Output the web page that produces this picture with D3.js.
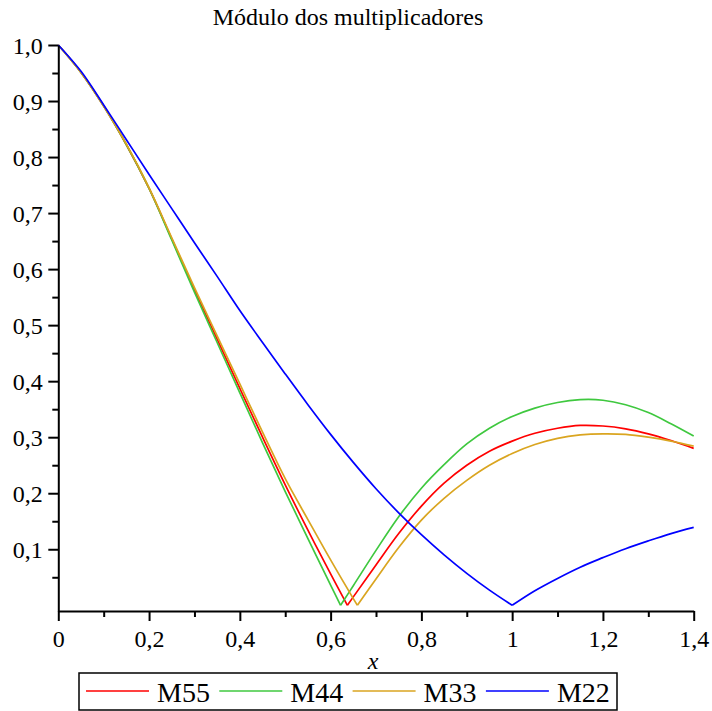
<!DOCTYPE html>
<html>
<head>
<meta charset="utf-8">
<script src="https://cdn.jsdelivr.net/npm/d3@7"></script>
<style>
  html, body { margin: 0; padding: 0; background: #fff; }
  svg { display: block; }
  text { font-family: "Liberation Serif", "Times New Roman", serif; fill: #000; }
</style>
</head>
<body>
<svg id="chart" width="712" height="711"></svg>
<script>
// Pontos de amostragem em x
const xs = [0, 0.05, 0.1, 0.15, 0.2, 0.25, 0.3, 0.35, 0.4, 0.45, 0.5, 0.55, 0.6, 0.65, 0.7,
            0.75, 0.8, 0.85, 0.9, 0.95, 1.0, 1.05, 1.1, 1.15, 1.2, 1.25, 1.3, 1.35, 1.4];

// |M| de cada multiplicador nos pontos xs
const m55 = [1.000, 0.951, 0.891, 0.822, 0.744, 0.654, 0.563, 0.475, 0.387, 0.300, 0.215, 0.134, 0.056, 0.015, 0.072,
             0.128, 0.177, 0.218, 0.250, 0.275, 0.293, 0.307, 0.316, 0.321, 0.320, 0.315, 0.306, 0.294, 0.280];
const m44 = [1.000, 0.951, 0.891, 0.822, 0.744, 0.652, 0.559, 0.469, 0.379, 0.290, 0.203, 0.119, 0.036, 0.035, 0.098,
             0.158, 0.209, 0.251, 0.288, 0.316, 0.337, 0.352, 0.362, 0.367, 0.366, 0.358, 0.344, 0.324, 0.302];
const m33 = [1.000, 0.951, 0.891, 0.823, 0.745, 0.656, 0.567, 0.481, 0.395, 0.309, 0.226, 0.153, 0.081, 0.012, 0.047,
             0.103, 0.152, 0.191, 0.223, 0.250, 0.271, 0.287, 0.298, 0.304, 0.306, 0.305, 0.300, 0.293, 0.284];
const m22 = [1.000, 0.953, 0.893, 0.831, 0.769, 0.708, 0.647, 0.587, 0.526, 0.469, 0.413, 0.358, 0.305, 0.255, 0.208,
             0.165, 0.126, 0.090, 0.057, 0.027, 0.000, 0.026, 0.048, 0.068, 0.085, 0.101, 0.115, 0.128, 0.139];

// Zero de cada módulo (onde a curva toca o eixo)
const roots = [0.637, 0.622, 0.659, 1.0];

const seriesNames = ["M55", "M44", "M33", "M22"];
const seriesValues = [m55, m44, m33, m22];
const seriesColors = ["#ff0000", "#3fc83f", "#daa520", "#0000ff"];

const xTicks = [0, 0.2, 0.4, 0.6, 0.8, 1.0, 1.2, 1.4];
const xTickLabels = ["0", "0,2", "0,4", "0,6", "0,8", "1", "1,2", "1,4"];
const xMinorTicks = [0.1, 0.3, 0.5, 0.7, 0.9, 1.1, 1.3];
const yTicks = [0.1, 0.2, 0.3, 0.4, 0.5, 0.6, 0.7, 0.8, 0.9, 1.0];
const yTickLabels = ["0,1", "0,2", "0,3", "0,4", "0,5", "0,6", "0,7", "0,8", "0,9", "1,0"];
const yMinorTicks = [0.05, 0.15, 0.25, 0.35, 0.45, 0.55, 0.65, 0.75, 0.85, 0.95];

const titleText = "Módulo dos multiplicadores";
const xLabel = "x";

const serif = "'Liberation Serif', 'Times New Roman', serif";
const svg = d3.select("#chart");

const x = d3.scaleLinear().domain([0, 1.4]).range([58.3, 693.7]);
const y = d3.scaleLinear().domain([-0.0102, 1]).range([611, 45]);

// Título
svg.append("text")
  .attr("x", 348).attr("y", 25)
  .attr("text-anchor", "middle")
  .style("font-size", "24px")
  .text(titleText);

// Curvas: cada série é dividida em dois ramos no seu zero
const line = d3.line()
  .x(d => x(d[0]))
  .y(d => y(d[1]))
  .curve(d3.curveCatmullRom.alpha(0.5));

const curves = svg.append("g").attr("fill", "none").attr("stroke-width", 1.7)
  .attr("stroke-linejoin", "round");

seriesValues.forEach((vals, i) => {
  const r = roots[i];
  const left = [], right = [];
  xs.forEach((xv, k) => {
    if (xv < r - 1e-9) left.push([xv, vals[k]]);
    else if (xv > r + 1e-9) right.push([xv, vals[k]]);
  });
  left.push([r, 0]);
  right.unshift([r, 0]);
  [left, right].forEach(branch => {
    curves.append("path")
      .attr("d", line(branch))
      .attr("stroke", seriesColors[i]);
  });
});

// Eixos
const axisStyle = g => {
  g.attr("font-family", serif);
  g.select(".domain").attr("stroke-width", 2);
  g.selectAll(".tick line").attr("stroke-width", 2);
};

svg.append("g")
  .attr("transform", `translate(0,${y(-0.0102)})`)
  .call(d3.axisBottom(x).tickValues(xMinorTicks).tickSize(6).tickSizeOuter(0).tickFormat(""))
  .call(g => g.select(".domain").remove())
  .call(axisStyle);

svg.append("g")
  .attr("transform", `translate(${x(0)},0)`)
  .call(d3.axisLeft(y).tickValues(yMinorTicks).tickSize(6).tickSizeOuter(0).tickFormat(""))
  .call(g => g.select(".domain").remove())
  .call(axisStyle);

svg.append("g")
  .attr("transform", `translate(0,${y(-0.0102)})`)
  .call(d3.axisBottom(x).tickValues(xTicks).tickSize(10).tickSizeOuter(0)
    .tickFormat((d, i) => xTickLabels[i]))
  .call(axisStyle)
  .call(g => g.selectAll(".tick text")
    .attr("y", 36).attr("dy", null)
    .style("font-size", "24px")
    .style("font-family", serif)
    .attr("fill", "#000"));

svg.append("g")
  .attr("transform", `translate(${x(0)},0)`)
  .call(d3.axisLeft(y).tickValues(yTicks).tickSize(10).tickSizeOuter(0)
    .tickFormat((d, i) => yTickLabels[i]))
  .call(axisStyle)
  .call(g => g.selectAll(".tick text")
    .attr("x", -15.5).attr("dy", "0.36em")
    .style("font-size", "24px")
    .style("font-family", serif)
    .attr("fill", "#000"));

// Rótulo do eixo x
svg.append("text")
  .attr("x", 373).attr("y", 669)
  .attr("text-anchor", "middle")
  .style("font-size", "24px")
  .style("font-style", "italic")
  .text(xLabel);

// Legenda
const legend = svg.append("g");
legend.append("rect")
  .attr("x", 79).attr("y", 673)
  .attr("width", 538).attr("height", 37)
  .attr("fill", "#fff").attr("stroke", "#000").attr("stroke-width", 1.5);

seriesNames.forEach((name, i) => {
  const x0 = 86 + i * 133.3;
  legend.append("line")
    .attr("x1", x0).attr("x2", x0 + 63)
    .attr("y1", 691).attr("y2", 691)
    .attr("stroke", seriesColors[i]).attr("stroke-width", 1.7);
  legend.append("text")
    .attr("x", x0 + 71).attr("y", 701.5)
    .style("font-size", "28px")
    .text(name);
});
</script>
</body>
</html>
